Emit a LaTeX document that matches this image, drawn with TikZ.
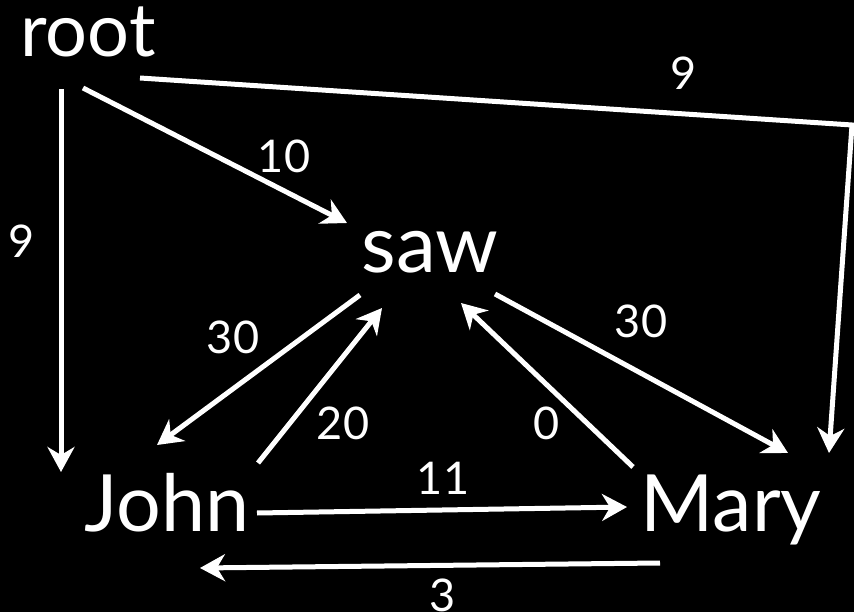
\documentclass[tikz,border=0pt]{standalone}
\usepackage{fontspec}
\setmainfont{Lato}
\usepackage{tikz}
\usetikzlibrary{arrows.meta,calc}

\tikzset{
  word/.style={text=white,inner sep=0pt,anchor=base},
  wgt/.style={text=white,inner sep=0pt,font=\fontsize{45}{50}\selectfont},
  arc/.style={draw=white,line width=5pt,
              -{Stealth[length=25pt,width=27pt,inset=8pt]}}
}

\begin{document}
\begin{tikzpicture}[x=1pt,y=-1pt]
  \fill[black] (0,0) rectangle (854,612);
  \useasboundingbox (0,0) rectangle (854,612);

  % words
  \node[word,font=\fontsize{74}{80}\selectfont] (root) at (88,57) {root};
  \node[word,font=\fontsize{80}{86}\selectfont] (saw) at (430,273) {saw};
  \node[word,font=\fontsize{79}{86}\selectfont] (john) at (167,531) {John};
  \node[word,font=\fontsize{79}{86}\selectfont] (mary) at (731,531) {Mary};
  \coordinate (corner) at (852,125);

  % arcs
  \draw[arc] ($(root.base)+(-27,32)$) -- ($(john.base)+(-106,-59)$);
  \draw[arc] ($(root.base)+(-5,31)$) -- ($(saw.base)+(-83,-50)$);
  \draw[arc] ($(root.base)+(52,21)$) -- (corner) -- ($(mary.base)+(98,-78)$);
  \draw[arc] ($(saw.base)+(-70,22)$) -- ($(john.base)+(-10,-86)$);
  \draw[arc] ($(john.base)+(91,-68)$) -- ($(saw.base)+(-48,35)$);
  \draw[arc] ($(mary.base)+(-98,-64)$) -- ($(saw.base)+(31,30)$);
  \draw[arc] ($(saw.base)+(65,21)$) -- ($(mary.base)+(57,-78)$);
  \draw[arc] ($(john.base)+(90,-18)$) -- ($(mary.base)+(-104,-24)$);
  \draw[arc] ($(mary.base)+(-71,32)$) -- ($(john.base)+(33,37)$);

  % weights
  \node[wgt] (w-rj) at (22,241) {9};
  \node[wgt] (w-rs) at (284,156) {10};
  \node[wgt] (w-rm) at (684,73) {9};
  \node[wgt] (w-sj) at (233,337) {30};
  \node[wgt] (w-js) at (343,423) {20};
  \node[wgt] (w-ms) at (547,423) {0};
  \node[wgt] (w-sm) at (641,321) {30};
  \node[wgt] (w-jm) at (443,478) {11};
  \node[wgt] (w-mj) at (443,595) {3};
\end{tikzpicture}
\end{document}
